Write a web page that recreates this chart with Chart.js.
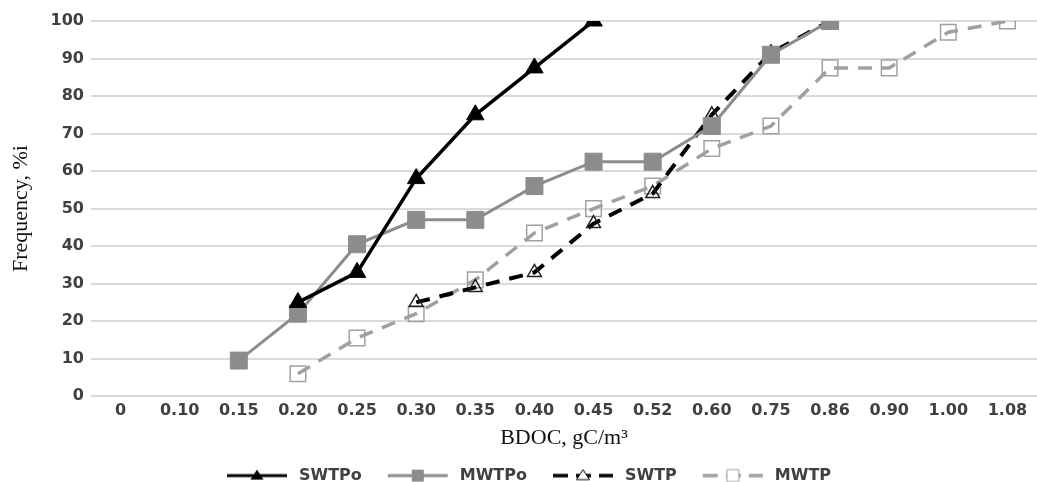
<!DOCTYPE html>
<html>
<head>
<meta charset="utf-8">
<script src="https://cdn.jsdelivr.net/npm/chart.js@4/dist/chart.umd.min.js"></script>
<style>
  html, body { margin: 0; padding: 0; background: #fff; overflow: hidden; }
  #wrap { width: 1050px; height: 482px; }
</style>
</head>
<body>
<div id="wrap"><canvas id="bdoc" width="1050" height="482"></canvas></div>
<script>
var categories = ['0', '0.10', '0.15', '0.20', '0.25', '0.30', '0.35', '0.40', '0.45', '0.52', '0.60', '0.75', '0.86', '0.90', '1.00', '1.08'];
var swtpo = [null, null, null, 25, 33, 58, 75, 87.5, 100, null, null, null, null, null, null, null];
var mwtpo = [null, null, 9.5, 22, 40.5, 47, 47, 56, 62.5, 62.5, 72, 91, 100, null, null, null];
var swtp  = [null, null, null, null, null, 25, 29, 33, 46, 54, 75, 91.5, 100, null, null, null];
var mwtp  = [null, null, null, 6, 15.5, 22, 31, 43.5, 50, 56, 66, 72, 87.5, 87.5, 97, 100];
var yTicks = [0, 10, 20, 30, 40, 50, 60, 70, 80, 90, 100];

var GRAY = '#8c8c8c';
var LGRAY = '#a0a0a0';

// legend symbol: line (solid or dashed) with marker, on a small canvas
function legendIcon(color, dash, lw, marker, filled, mColor) {
    var c = document.createElement('canvas');
    c.width = 76; c.height = 18;
    var g = c.getContext('2d');
    var x0 = 12, x1 = 72, cx = 42, cy = 9;
    g.strokeStyle = color; g.lineWidth = lw; g.setLineDash(dash);
    g.beginPath(); g.moveTo(x0, cy); g.lineTo(x1, cy); g.stroke();
    g.setLineDash([]);
    g.beginPath();
    if (marker === 'triangle') {
        g.moveTo(cx, cy - 6); g.lineTo(cx + 6.5, cy + 4); g.lineTo(cx - 6.5, cy + 4); g.closePath();
    } else {
        g.rect(cx - 6, cy - 6, 12, 12);
    }
    if (filled) { g.fillStyle = mColor; g.fill(); }
    else { g.fillStyle = '#fff'; g.fill(); g.lineWidth = 1; g.strokeStyle = mColor; g.stroke(); }
    return c;
}

var icons = [
    legendIcon('#000', [], 3, 'triangle', true, '#000'),
    legendIcon(GRAY, [], 3, 'rect', true, GRAY),
    legendIcon('#000', [15, 8], 3.5, 'triangle', false, '#000'),
    legendIcon(LGRAY, [15, 8], 3.5, 'rect', false, LGRAY)
];

var ctx = document.getElementById('bdoc').getContext('2d');
var chart = new Chart(ctx, {
    type: 'line',
    data: {
        labels: categories,
        datasets: [{
            label: 'SWTPo',
            data: swtpo,
            borderColor: '#000',
            backgroundColor: '#000',
            borderWidth: 3.5,
            pointStyle: 'triangle',
            pointRadius: 10,
            pointBackgroundColor: '#000',
            pointBorderColor: '#000',
            pointBorderWidth: 1
        }, {
            label: 'MWTPo',
            data: mwtpo,
            borderColor: GRAY,
            backgroundColor: GRAY,
            borderWidth: 3,
            pointStyle: 'rect',
            pointRadius: 12,
            pointBackgroundColor: GRAY,
            pointBorderColor: GRAY,
            pointBorderWidth: 1
        }, {
            label: 'SWTP',
            data: swtp,
            borderColor: '#000',
            backgroundColor: '#000',
            borderWidth: 4,
            borderDash: [14, 10],
            pointStyle: 'triangle',
            pointRadius: 8,
            pointBackgroundColor: 'rgba(255,255,255,0)',
            pointBorderColor: '#222',
            pointBorderWidth: 1.5
        }, {
            label: 'MWTP',
            data: mwtp,
            borderColor: LGRAY,
            backgroundColor: LGRAY,
            borderWidth: 3.5,
            borderDash: [14, 10],
            pointStyle: 'rect',
            pointRadius: 11,
            pointBackgroundColor: 'rgba(255,255,255,0)',
            pointBorderColor: LGRAY,
            pointBorderWidth: 1.5
        }]
    },
    options: {
        responsive: false,
        animation: false,
        layout: { padding: { top: 21, right: 4, left: 0, bottom: -11.6 } },
        plugins: {
            tooltip: { enabled: false },
            legend: {
                position: 'bottom',
                labels: {
                    usePointStyle: true,
                    pointStyleWidth: 76,
                    padding: 14,
                    color: '#404040',
                    font: { family: 'DejaVu Sans', size: 16, weight: 'bold' },
                    generateLabels: function (ch) {
                        return ch.data.datasets.map(function (ds, i) {
                            return {
                                text: ds.label,
                                pointStyle: icons[i],
                                fillStyle: 'transparent',
                                strokeStyle: 'transparent',
                                lineWidth: 0,
                                hidden: false,
                                datasetIndex: i,
                                fontColor: '#404040'
                            };
                        });
                    }
                }
            }
        },
        scales: {
            x: {
                offset: true,
                afterFit: function (s) { s.height = 57.4; },
                grid: { display: false, drawTicks: false },
                border: { display: false },
                ticks: {
                    padding: 5,
                    color: '#404040',
                    maxRotation: 0,
                    autoSkip: false,
                    font: { family: 'DejaVu Sans', size: 16, weight: 'bold' }
                },
                title: {
                    display: true,
                    text: 'BDOC, gC/m³',
                    color: '#111',
                    padding: { top: 0, bottom: 2 },
                    font: { family: 'Liberation Serif', size: 22 }
                }
            },
            y: {
                min: 0,
                max: 100,
                afterFit: function (s) { s.width = 91; },
                afterBuildTicks: function (s) {
                    s.ticks = yTicks.map(function (v) { return { value: v }; });
                },
                grid: { color: '#dadada', lineWidth: 2, drawTicks: false },
                border: { display: false },
                ticks: {
                    padding: 7,
                    color: '#404040',
                    font: { family: 'DejaVu Sans', size: 16, weight: 'bold' }
                },
                title: {
                    display: true,
                    text: 'Frequency, %i',
                    color: '#111',
                    padding: { top: 8, bottom: 0 },
                    font: { family: 'Liberation Serif', size: 22 }
                }
            }
        }
    }
});
</script>
</body>
</html>
